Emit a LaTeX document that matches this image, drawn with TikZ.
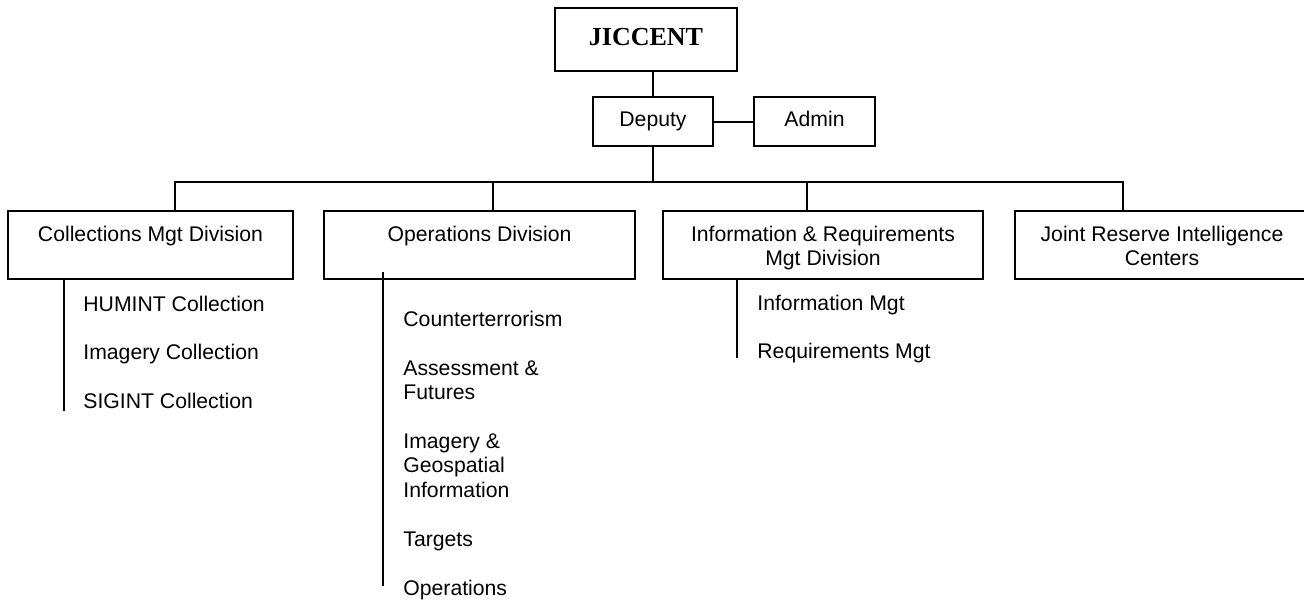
\documentclass[tikz,border=0pt]{standalone}
\usepackage{fontspec}
\setmainfont{Liberation Sans}
\newfontfamily\timesfont{Liberation Serif}
\tikzset{
  ln/.style={line width=1pt, line cap=rect},
  bx/.style={draw, line width=1pt, inner sep=0pt, align=center,
    font=\fontsize{10.6}{12.25}\selectfont},
  sub/.style={anchor=north west, inner sep=0pt, align=left,
    font=\fontsize{10.6}{12.25}\selectfont},
}
\newcommand{\twol}[2]{\rule{0pt}{12.4pt}#1\\#2\strut}
\newcommand{\onel}[1]{\rule[-2.5pt]{0pt}{9pt}#1}
\newcommand{\fl}{\rule{0pt}{8pt}}
\begin{document}
\begin{tikzpicture}[x=0.5pt,y=-0.5pt]
\clip (0,0) rectangle (1304,601);
\useasboundingbox (0,0) rectangle (1304,601);
% top boxes
\node[bx, minimum width=91pt, minimum height=31.5pt, font=\timesfont\bfseries\fontsize{13}{15}\selectfont] (jic) at (646,39.5) {\rule[-3.1pt]{0pt}{8.6pt}JICCENT};
\node[bx, minimum width=60pt, minimum height=24.5pt] (dep) at (653,121.5) {\onel{Deputy}};
\node[bx, minimum width=60.5pt, minimum height=24.5pt] (adm) at (814.5,121.5) {\onel{Admin}};
% division boxes
\node[bx, minimum width=142.5pt, minimum height=34pt] (coll) at (150.5,245) {\twol{Collections Mgt Division}{~}};
\node[bx, minimum width=155.5pt, minimum height=34pt] (ops) at (479.5,245) {\twol{Operations Division}{~}};
\node[bx, minimum width=160pt, minimum height=34pt] (info) at (823,245) {\twol{Information \& Requirements}{Mgt Division}};
\node[bx, minimum width=147pt, minimum height=34pt] (joint) at (1162,245) {\twol{Joint Reserve Intelligence}{Centers}};
% connectors
\coordinate (dc) at (175,182);
\coordinate (do) at (493,182);
\coordinate (di) at (807,182);
\coordinate (dj) at (1123,182);
\draw[ln] (dep.north |- jic.south) -- (dep.north);
\draw[ln] (dep.east) -- (adm.west);
\draw[ln] (dep.south) -- (dep.south |- dc);
\draw[ln] (dc) -- (dj);
\draw[ln] (dc) -- (dc |- coll.north);
\draw[ln] (do) -- (do |- ops.north);
\draw[ln] (di) -- (di |- info.north);
\draw[ln] (dj) -- (dj |- joint.north);
% sub lines
\coordinate (cse) at (64,410);
\coordinate (ost) at (383,273);
\coordinate (ose) at (383,585);
\coordinate (ise) at (737,357);
\draw[ln] (cse |- coll.south) -- (cse);
\draw[ln] (ost) -- (ose);
\draw[ln] (ise |- info.south) -- (ise);
% collections sub items
\node[sub] (c1) at (83,295) {\fl HUMINT Collection};
\node[sub] (c2) at (83,343) {\fl Imagery Collection};
\node[sub] (c3) at (83,392) {\fl SIGINT Collection};
% operations sub items
\node[sub] (o1) at (403,310) {\fl Counterterrorism};
\node[sub] (o2) at (403,359) {\fl Assessment \&\\Futures};
\node[sub] (o3) at (403,432) {\fl Imagery \&\\Geospatial\\Information};
\node[sub] (o4) at (403,530) {\fl Targets};
\node[sub] (o5) at (403,579) {\fl Operations};
% info sub items
\node[sub] (i1) at (757,294) {\fl Information Mgt};
\node[sub] (i2) at (757,342) {\fl Requirements Mgt};
\end{tikzpicture}
\end{document}
